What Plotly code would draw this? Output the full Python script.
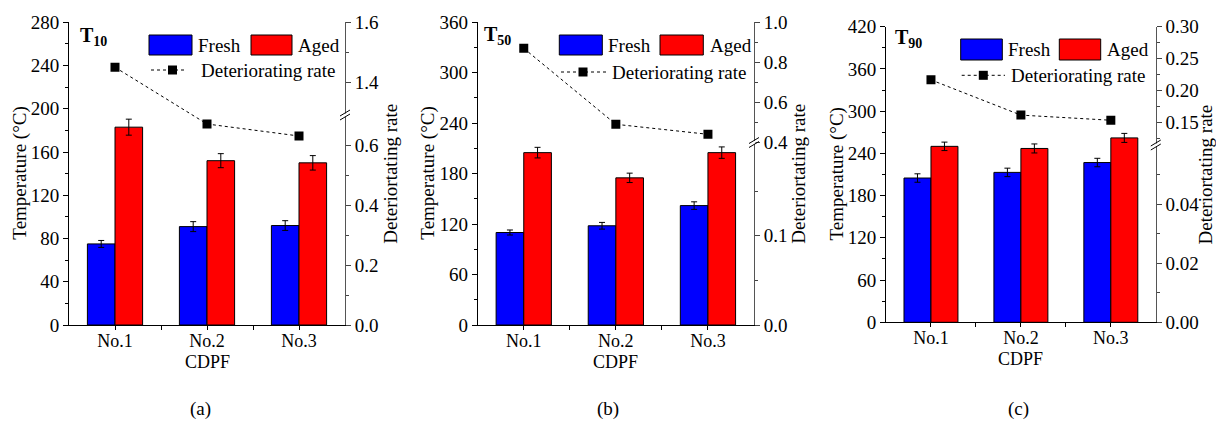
import plotly.graph_objects as go

# ---------------- data ----------------
categories = ["No.1", "No.2", "No.3"]

fresh_a = [75, 91, 92]
fresh_a_err = [3.2, 4.6, 4.5]
aged_a = [183, 152, 150]
aged_a_err = [7.4, 6.5, 6.7]
rate_a = [1.45, 0.67, 0.63]

fresh_b = [110, 118, 142]
fresh_b_err = [3.0, 4.0, 4.5]
aged_b = [205, 175, 205]
aged_b_err = [6.3, 5.6, 6.8]
rate_b = [0.87, 0.49, 0.44]

fresh_c = [205, 213, 227]
fresh_c_err = [6.0, 6.0, 6.0]
aged_c = [250, 247, 262]
aged_c_err = [6.0, 6.4, 6.4]
rate_c = [0.217, 0.162, 0.154]

W, H = 1216, 421
FONT = "Liberation Serif"


def px(x):
    return x / W


def py(y):
    return 1 - y / H


def make_map(segments):
    def f(v):
        for v0, v1, p0, p1 in segments:
            if v0 - 1e-9 <= v <= v1 + 1e-9:
                return p0 + (v - v0) * (p1 - p0) / (v1 - v0)
        raise ValueError(v)
    return f


panels = [
    dict(name="a", sub="10", L=69, R=345, top=22.3, bot=325, ymax=280, dtick=40,
         fresh=fresh_a, ferr=fresh_a_err, aged=aged_a, aerr=aged_a_err, rate=rate_a,
         segs=[(0, 0.69, 0, 207), (1.29, 1.6, 209.7, 302.7)],
         rt=[0, 0.2, 0.4, 0.6, 1.4, 1.6], rlab=["0.0", "0.2", "0.4", "0.6", "1.4", "1.6"],
         rminor=[0.1, 0.3, 0.5, 1.5], brk=115,
         leg=dict(fr=(149, 35, 192, 55), ar=(251, 35, 292, 55), ty=45, ftx=196, atx=296,
                  lx=(151, 185), ly=70, mx=172.5, dtx=199),
         ltitle_x=20, rtitle_x=391, Tx=78, Ty=37, lab_x=200),
    dict(name="b", sub="50", L=477.7, R=754, top=22.3, bot=325, ymax=360, dtick=60,
         fresh=fresh_b, ferr=fresh_b_err, aged=aged_b, aerr=aged_b_err, rate=rate_b,
         segs=[(0, 0.2, 0, 178.6), (0.4, 1.0, 182.7, 302.7)],
         rt=[0, 0.1, 0.4, 0.6, 0.8, 1.0], rlab=["0.0", "0.1", "0.4", "0.6", "0.8", "1.0"],
         rminor=[0.05, 0.15, 0.5, 0.7, 0.9], brk=142.5,
         leg=dict(fr=(559.3, 35, 602.3, 55), ar=(660, 35, 703.3, 55), ty=45, ftx=606, atx=708,
                  lx=(561, 608), ly=72, mx=583, dtx=610),
         ltitle_x=428, rtitle_x=799, Tx=482, Ty=35, lab_x=608),
    dict(name="c", sub="90", L=886, R=1155.8, top=26.7, bot=322.3, ymax=420, dtick=60,
         fresh=fresh_c, ferr=fresh_c_err, aged=aged_c, aerr=aged_c_err, rate=rate_c,
         segs=[(0, 0.06, 0, 177), (0.118, 0.30, 179, 295.6)],
         rt=[0, 0.02, 0.04, 0.15, 0.20, 0.25, 0.30],
         rlab=["0.00", "0.02", "0.04", "0.15", "0.20", "0.25", "0.30"],
         rminor=[0.01, 0.03, 0.05, 0.125, 0.175, 0.225, 0.275], brk=145,
         leg=dict(fr=(960.7, 39, 1002.3, 60), ar=(1059.3, 39, 1100.7, 60), ty=49.5, ftx=1006,
                  atx=1105, lx=(961.7, 1005), ly=75.3, mx=983.3, dtx=1009),
         ltitle_x=837, rtitle_x=1205, Tx=893, Ty=39, lab_x=1018),
]

fig = go.Figure()
shapes = []
annotations = []
layout_axes = {}
xpos = [0, 1, 2]
txt_font = dict(family=FONT, size=19, color="black")

for i, p in enumerate(panels, start=1):
    xa = "x" if i == 1 else f"x{i}"
    yl = "y" if i == 1 else f"y{2 * i - 1}"
    yr = f"y{2 * i}"
    fmap = make_map(p["segs"])
    hpx = p["bot"] - p["top"]

    fig.add_trace(go.Bar(x=xpos, y=p["fresh"], xaxis=xa, yaxis=yl, width=0.3, offset=-0.3,
                         marker=dict(color="#0000FF", line=dict(color="black", width=1)),
                         error_y=dict(type="data", array=p["ferr"], color="black",
                                      thickness=1, width=3),
                         name="Fresh", showlegend=False))
    fig.add_trace(go.Bar(x=xpos, y=p["aged"], xaxis=xa, yaxis=yl, width=0.3, offset=0,
                         marker=dict(color="#FF0000", line=dict(color="black", width=1)),
                         error_y=dict(type="data", array=p["aerr"], color="black",
                                      thickness=1, width=3),
                         name="Aged", showlegend=False))
    fig.add_trace(go.Scatter(x=xpos, y=[fmap(v) for v in p["rate"]], xaxis=xa, yaxis=yr,
                             mode="lines+markers",
                             line=dict(color="black", width=1, dash="dot"),
                             marker=dict(symbol="square", size=9, color="black"),
                             name="Deteriorating rate", showlegend=False))

    xkey = "xaxis" if i == 1 else f"xaxis{i}"
    ylkey = "yaxis" if i == 1 else f"yaxis{2 * i - 1}"
    yrkey = f"yaxis{2 * i}"
    layout_axes[xkey] = dict(
        domain=[px(p["L"]), px(p["R"])], range=[-0.5, 2.5], anchor=yl, automargin=False,
        tickmode="array", tickvals=xpos, ticktext=categories,
        ticks="outside", ticklen=4, tickcolor="black", tickwidth=1,
        ticklabelstandoff=-5,
        minor=dict(tickmode="array", tickvals=[0.5, 1.5], ticks="outside", ticklen=4,
                   tickcolor="black"),
        showline=True, linecolor="black", linewidth=1, showgrid=False, zeroline=False,
        tickfont=dict(family=FONT, size=18, color="black"), fixedrange=True)
    layout_axes[ylkey] = dict(
        domain=[py(p["bot"]), py(p["top"])], range=[0, p["ymax"]], anchor=xa,
        automargin=False,
        tickmode="linear", tick0=0, dtick=p["dtick"],
        ticks="outside", ticklen=5, tickcolor="black", tickwidth=1,
        minor=dict(dtick=p["dtick"] / 2, tick0=0, ticks="outside", ticklen=3,
                   tickcolor="black"),
        showline=True, linecolor="black", linewidth=1, showgrid=False, zeroline=False,
        tickfont=dict(family=FONT, size=19, color="black"), fixedrange=True)
    layout_axes[yrkey] = dict(
        overlaying=yl, side="right", anchor=xa, range=[0, hpx], automargin=False,
        tickmode="array", tickvals=[fmap(v) for v in p["rt"]], ticktext=p["rlab"],
        ticks="outside", ticklen=5, tickcolor="#444", tickwidth=1,
        minor=dict(tickmode="array", tickvals=[fmap(v) for v in p["rminor"]],
                   ticks="outside", ticklen=3, tickcolor="#444"),
        showline=True, linecolor="#555", linewidth=1, showgrid=False, zeroline=False,
        tickfont=dict(family=FONT, size=19, color="black"), fixedrange=True)

    # legend (manual)
    lg = p["leg"]
    for (x0, y0, x1, y1), col in [(lg["fr"], "#0000FF"), (lg["ar"], "#FF0000")]:
        shapes.append(dict(type="rect", xref="paper", yref="paper",
                           x0=px(x0), x1=px(x1), y0=py(y1), y1=py(y0),
                           fillcolor=col, line=dict(color="black", width=1)))
    shapes.append(dict(type="line", xref="paper", yref="paper",
                       x0=px(lg["lx"][0]), x1=px(lg["lx"][1]), y0=py(lg["ly"]), y1=py(lg["ly"]),
                       line=dict(color="black", width=1, dash="dot")))
    shapes.append(dict(type="rect", xref="paper", yref="paper",
                       x0=px(lg["mx"] - 4.5), x1=px(lg["mx"] + 4.5),
                       y0=py(lg["ly"] + 4.5), y1=py(lg["ly"] - 4.5),
                       fillcolor="black", line=dict(color="black", width=0)))
    for text, x, y in [("Fresh", lg["ftx"], lg["ty"]), ("Aged", lg["atx"], lg["ty"]),
                       ("Deteriorating rate", lg["dtx"], lg["ly"])]:
        annotations.append(dict(text=text, xref="paper", yref="paper", x=px(x), y=py(y),
                                xanchor="left", yanchor="middle", showarrow=False,
                                font=txt_font))

    # axis break marks on right axis
    ax, yb = p["R"], p["brk"]
    shapes.append(dict(type="rect", xref="paper", yref="paper",
                       x0=px(ax - 1.5), x1=px(ax + 1.5), y0=py(yb + 1.5), y1=py(yb - 1.5),
                       fillcolor="white", line=dict(width=0)))
    for d in (-2, 2):
        shapes.append(dict(type="line", xref="paper", yref="paper",
                           x0=px(ax - 5), y0=py(yb + 3 + d), x1=px(ax + 5), y1=py(yb - 3 + d),
                           line=dict(color="black", width=1)))

    # texts
    annotations.append(dict(text=f"<b>T<sub>{p['sub']}</sub></b>", xref="paper", yref="paper",
                            x=px(p["Tx"]), y=py(p["Ty"]), xanchor="left", yanchor="middle",
                            showarrow=False, font=dict(family=FONT, size=20, color="black")))
    ymid = (p["top"] + p["bot"]) / 2
    annotations.append(dict(text="Temperature (°C)", xref="paper", yref="paper",
                            x=px(p["ltitle_x"]), y=py(ymid), textangle=-90,
                            xanchor="center", yanchor="middle", showarrow=False, font=txt_font))
    annotations.append(dict(text="Deteriortating rate", xref="paper", yref="paper",
                            x=px(p["rtitle_x"]), y=py(ymid), textangle=-90,
                            xanchor="center", yanchor="middle", showarrow=False, font=txt_font))
    xc = p["L"] + (p["R"] - p["L"]) * 0.5
    annotations.append(dict(text="CDPF", xref="paper", yref="paper",
                            x=px(xc), y=py(p["bot"] + 37), xanchor="center",
                            yanchor="middle", showarrow=False,
                            font=dict(family=FONT, size=18, color="black")))
    annotations.append(dict(text=f"({p['name']})", xref="paper", yref="paper",
                            x=px(p["lab_x"]), y=py(409), xanchor="center",
                            yanchor="middle", showarrow=False, font=txt_font))

fig.update_layout(
    template="none",
    width=W, height=H, margin=dict(l=0, r=0, t=0, b=0, pad=0, autoexpand=False),
    paper_bgcolor="white", plot_bgcolor="white",
    barmode="overlay", showlegend=False,
    font=dict(family=FONT, size=19, color="black"),
    shapes=shapes, annotations=annotations, **layout_axes)

fig.write_html("out.html")
